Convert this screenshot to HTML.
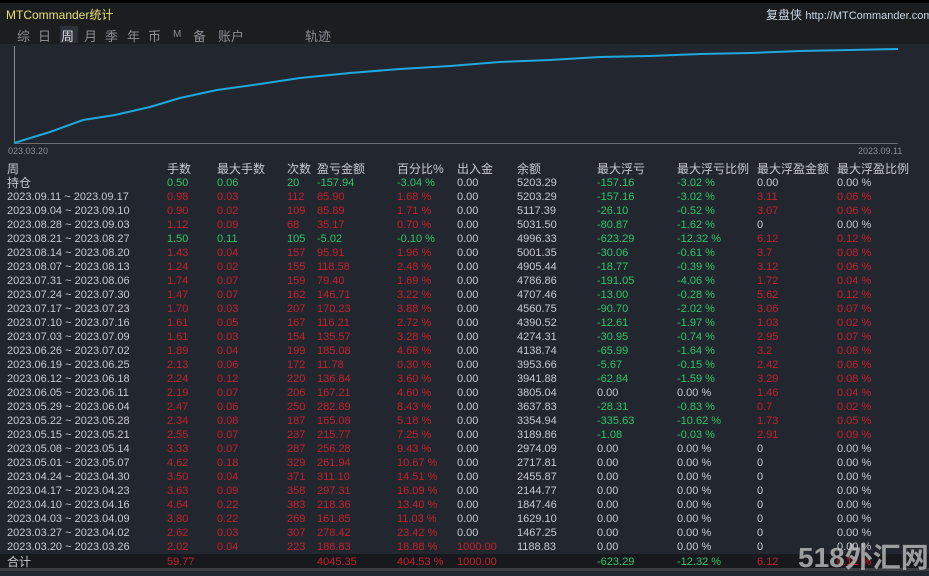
<!DOCTYPE html>
<html><head><meta charset="utf-8"><style>
*{margin:0;padding:0}
body{width:929px;height:571px;background:#22272f;position:relative;overflow:hidden;font-family:"Liberation Sans","Noto Sans CJK SC",sans-serif;color:#c6cacf}
.top{position:absolute;left:0;top:0;width:929px;height:3px;background:#000}
.bar{position:absolute;left:0;top:3px;width:929px;height:41px;background:#1c1d1f}
.t{position:absolute;white-space:nowrap}
.tab{position:absolute;top:26px;font-size:13px;color:#8a8e93}
.r{position:absolute;left:0;width:929px;height:14px;font-size:11px;line-height:14px}
.r span{position:absolute;top:0;white-space:nowrap}
.r span:nth-child(1){left:7px}.r span:nth-child(2){left:167px}.r span:nth-child(3){left:217px}
.r span:nth-child(4){left:287px}.r span:nth-child(5){left:317px}.r span:nth-child(6){left:397px}
.r span:nth-child(7){left:457px}.r span:nth-child(8){left:517px}.r span:nth-child(9){left:597px}
.r span:nth-child(10){left:677px}.r span:nth-child(11){left:757px}.r span:nth-child(12){left:837px}
.g{color:#2fc466}.d{color:#c4202a}
</style></head><body>
<div class="top"></div>
<div class="bar"></div>
<div class="t" style="left:6px;top:6px;font-size:12px;color:#e8e070">MTCommander统计</div>
<div class="t" style="left:766px;top:6px;font-size:12px;color:#c8d8e8">复盘侠 <span style="font-size:11px">http://MTCommander.com</span></div>
<div style="position:absolute;left:60px;top:26px;width:18px;height:17px;background:#2c3038"></div>
<div class="tab" style="left:17px">综</div><div class="tab" style="left:38px">日</div>
<div class="tab" style="left:61px;color:#d8dce0">周</div><div class="tab" style="left:84px">月</div>
<div class="tab" style="left:105px">季</div><div class="tab" style="left:127px">年</div>
<div class="tab" style="left:148px">币</div><div class="tab" style="left:173px;font-size:10px;top:29px">M</div>
<div class="tab" style="left:193px">备</div><div class="tab" style="left:218px">账户</div>
<div class="tab" style="left:305px">轨迹</div>
<svg style="position:absolute;left:0;top:44px" width="929" height="112">
<line x1="14.5" y1="2" x2="14.5" y2="100" stroke="#8a8e93" stroke-width="1"/>
<line x1="14" y1="99.5" x2="898" y2="99.5" stroke="#6a6e73" stroke-width="1"/>
<polyline fill="none" stroke="#1ea8dc" stroke-width="2" points="14,99 50,88 83,76 115,71 150,63 180,54 217,46 260,40 300,34 350,29 400,25 450,22 500,18 550,16 600,13 650,12 700,10 750,9 800,7 850,6 898,5"/>
<text x="8" y="110" font-size="9" fill="#8a8e93" font-family="Liberation Sans">023.03.20</text>
<text x="858" y="110" font-size="9" fill="#8a8e93" font-family="Liberation Sans">2023.09.11</text>
</svg>
<div class="r" style="top:162px;font-size:12px"><span>周</span><span>手数</span><span>最大手数</span><span>次数</span><span>盈亏金额</span><span>百分比%</span><span>出入金</span><span>余额</span><span>最大浮亏</span><span>最大浮亏比例</span><span>最大浮盈金额</span><span>最大浮盈比例</span></div>
<div class="r" style="top:176px"><span style="font-size:12px">持仓</span><span class="g">0.50</span><span class="g">0.06</span><span class="g">20</span><span class="g">-157.94</span><span class="g">-3.04 %</span><span>0.00</span><span>5203.29</span><span class="g">-157.16</span><span class="g">-3.02 %</span><span>0.00</span><span>0.00 %</span></div>
<div class="r" style="top:190px"><span>2023.09.11 ~ 2023.09.17</span><span class="d">0.98</span><span class="d">0.03</span><span class="d">112</span><span class="d">85.90</span><span class="d">1.68 %</span><span>0.00</span><span>5203.29</span><span class="g">-157.16</span><span class="g">-3.02 %</span><span class="d">3.11</span><span class="d">0.06 %</span></div>
<div class="r" style="top:204px"><span>2023.09.04 ~ 2023.09.10</span><span class="d">0.90</span><span class="d">0.02</span><span class="d">109</span><span class="d">85.89</span><span class="d">1.71 %</span><span>0.00</span><span>5117.39</span><span class="g">-26.10</span><span class="g">-0.52 %</span><span class="d">3.07</span><span class="d">0.06 %</span></div>
<div class="r" style="top:218px"><span>2023.08.28 ~ 2023.09.03</span><span class="d">1.12</span><span class="d">0.09</span><span class="d">68</span><span class="d">35.17</span><span class="d">0.70 %</span><span>0.00</span><span>5031.50</span><span class="g">-80.87</span><span class="g">-1.62 %</span><span>0</span><span>0.00 %</span></div>
<div class="r" style="top:232px"><span>2023.08.21 ~ 2023.08.27</span><span class="g">1.50</span><span class="g">0.11</span><span class="g">105</span><span class="g">-5.02</span><span class="g">-0.10 %</span><span>0.00</span><span>4996.33</span><span class="g">-623.29</span><span class="g">-12.32 %</span><span class="d">6.12</span><span class="d">0.12 %</span></div>
<div class="r" style="top:246px"><span>2023.08.14 ~ 2023.08.20</span><span class="d">1.43</span><span class="d">0.04</span><span class="d">157</span><span class="d">95.91</span><span class="d">1.96 %</span><span>0.00</span><span>5001.35</span><span class="g">-30.06</span><span class="g">-0.61 %</span><span class="d">3.7</span><span class="d">0.08 %</span></div>
<div class="r" style="top:260px"><span>2023.08.07 ~ 2023.08.13</span><span class="d">1.24</span><span class="d">0.02</span><span class="d">155</span><span class="d">118.58</span><span class="d">2.48 %</span><span>0.00</span><span>4905.44</span><span class="g">-18.77</span><span class="g">-0.39 %</span><span class="d">3.12</span><span class="d">0.06 %</span></div>
<div class="r" style="top:274px"><span>2023.07.31 ~ 2023.08.06</span><span class="d">1.74</span><span class="d">0.07</span><span class="d">159</span><span class="d">79.40</span><span class="d">1.69 %</span><span>0.00</span><span>4786.86</span><span class="g">-191.05</span><span class="g">-4.06 %</span><span class="d">1.72</span><span class="d">0.04 %</span></div>
<div class="r" style="top:288px"><span>2023.07.24 ~ 2023.07.30</span><span class="d">1.47</span><span class="d">0.07</span><span class="d">162</span><span class="d">146.71</span><span class="d">3.22 %</span><span>0.00</span><span>4707.46</span><span class="g">-13.00</span><span class="g">-0.28 %</span><span class="d">5.62</span><span class="d">0.12 %</span></div>
<div class="r" style="top:302px"><span>2023.07.17 ~ 2023.07.23</span><span class="d">1.70</span><span class="d">0.03</span><span class="d">207</span><span class="d">170.23</span><span class="d">3.88 %</span><span>0.00</span><span>4560.75</span><span class="g">-90.70</span><span class="g">-2.02 %</span><span class="d">3.06</span><span class="d">0.07 %</span></div>
<div class="r" style="top:316px"><span>2023.07.10 ~ 2023.07.16</span><span class="d">1.61</span><span class="d">0.05</span><span class="d">167</span><span class="d">116.21</span><span class="d">2.72 %</span><span>0.00</span><span>4390.52</span><span class="g">-12.61</span><span class="g">-1.97 %</span><span class="d">1.03</span><span class="d">0.02 %</span></div>
<div class="r" style="top:330px"><span>2023.07.03 ~ 2023.07.09</span><span class="d">1.61</span><span class="d">0.03</span><span class="d">154</span><span class="d">135.57</span><span class="d">3.28 %</span><span>0.00</span><span>4274.31</span><span class="g">-30.95</span><span class="g">-0.74 %</span><span class="d">2.95</span><span class="d">0.07 %</span></div>
<div class="r" style="top:344px"><span>2023.06.26 ~ 2023.07.02</span><span class="d">1.89</span><span class="d">0.04</span><span class="d">199</span><span class="d">185.08</span><span class="d">4.68 %</span><span>0.00</span><span>4138.74</span><span class="g">-65.99</span><span class="g">-1.64 %</span><span class="d">3.2</span><span class="d">0.08 %</span></div>
<div class="r" style="top:358px"><span>2023.06.19 ~ 2023.06.25</span><span class="d">2.13</span><span class="d">0.06</span><span class="d">172</span><span class="d">11.78</span><span class="d">0.30 %</span><span>0.00</span><span>3953.66</span><span class="g">-5.67</span><span class="g">-0.15 %</span><span class="d">2.42</span><span class="d">0.06 %</span></div>
<div class="r" style="top:372px"><span>2023.06.12 ~ 2023.06.18</span><span class="d">2.24</span><span class="d">0.12</span><span class="d">220</span><span class="d">136.84</span><span class="d">3.60 %</span><span>0.00</span><span>3941.88</span><span class="g">-62.84</span><span class="g">-1.59 %</span><span class="d">3.29</span><span class="d">0.08 %</span></div>
<div class="r" style="top:386px"><span>2023.06.05 ~ 2023.06.11</span><span class="d">2.19</span><span class="d">0.07</span><span class="d">206</span><span class="d">167.21</span><span class="d">4.60 %</span><span>0.00</span><span>3805.04</span><span>0.00</span><span>0.00 %</span><span class="d">1.46</span><span class="d">0.04 %</span></div>
<div class="r" style="top:400px"><span>2023.05.29 ~ 2023.06.04</span><span class="d">2.47</span><span class="d">0.06</span><span class="d">250</span><span class="d">282.89</span><span class="d">8.43 %</span><span>0.00</span><span>3637.83</span><span class="g">-28.31</span><span class="g">-0.83 %</span><span class="d">0.7</span><span class="d">0.02 %</span></div>
<div class="r" style="top:414px"><span>2023.05.22 ~ 2023.05.28</span><span class="d">2.34</span><span class="d">0.08</span><span class="d">187</span><span class="d">165.08</span><span class="d">5.18 %</span><span>0.00</span><span>3354.94</span><span class="g">-335.63</span><span class="g">-10.62 %</span><span class="d">1.73</span><span class="d">0.05 %</span></div>
<div class="r" style="top:428px"><span>2023.05.15 ~ 2023.05.21</span><span class="d">2.55</span><span class="d">0.07</span><span class="d">237</span><span class="d">215.77</span><span class="d">7.25 %</span><span>0.00</span><span>3189.86</span><span class="g">-1.08</span><span class="g">-0.03 %</span><span class="d">2.91</span><span class="d">0.09 %</span></div>
<div class="r" style="top:442px"><span>2023.05.08 ~ 2023.05.14</span><span class="d">3.33</span><span class="d">0.07</span><span class="d">287</span><span class="d">256.28</span><span class="d">9.43 %</span><span>0.00</span><span>2974.09</span><span>0.00</span><span>0.00 %</span><span>0</span><span>0.00 %</span></div>
<div class="r" style="top:456px"><span>2023.05.01 ~ 2023.05.07</span><span class="d">4.62</span><span class="d">0.18</span><span class="d">329</span><span class="d">261.94</span><span class="d">10.67 %</span><span>0.00</span><span>2717.81</span><span>0.00</span><span>0.00 %</span><span>0</span><span>0.00 %</span></div>
<div class="r" style="top:470px"><span>2023.04.24 ~ 2023.04.30</span><span class="d">3.50</span><span class="d">0.04</span><span class="d">371</span><span class="d">311.10</span><span class="d">14.51 %</span><span>0.00</span><span>2455.87</span><span>0.00</span><span>0.00 %</span><span>0</span><span>0.00 %</span></div>
<div class="r" style="top:484px"><span>2023.04.17 ~ 2023.04.23</span><span class="d">3.63</span><span class="d">0.09</span><span class="d">358</span><span class="d">297.31</span><span class="d">16.09 %</span><span>0.00</span><span>2144.77</span><span>0.00</span><span>0.00 %</span><span>0</span><span>0.00 %</span></div>
<div class="r" style="top:498px"><span>2023.04.10 ~ 2023.04.16</span><span class="d">4.64</span><span class="d">0.22</span><span class="d">383</span><span class="d">218.36</span><span class="d">13.40 %</span><span>0.00</span><span>1847.46</span><span>0.00</span><span>0.00 %</span><span>0</span><span>0.00 %</span></div>
<div class="r" style="top:512px"><span>2023.04.03 ~ 2023.04.09</span><span class="d">3.80</span><span class="d">0.22</span><span class="d">269</span><span class="d">161.85</span><span class="d">11.03 %</span><span>0.00</span><span>1629.10</span><span>0.00</span><span>0.00 %</span><span>0</span><span>0.00 %</span></div>
<div class="r" style="top:526px"><span>2023.03.27 ~ 2023.04.02</span><span class="d">2.62</span><span class="d">0.03</span><span class="d">307</span><span class="d">278.42</span><span class="d">23.42 %</span><span>0.00</span><span>1467.25</span><span>0.00</span><span>0.00 %</span><span>0</span><span>0.00 %</span></div>
<div class="r" style="top:540px"><span>2023.03.20 ~ 2023.03.26</span><span class="d">2.02</span><span class="d">0.04</span><span class="d">223</span><span class="d">188.83</span><span class="d">18.88 %</span><span class="d">1000.00</span><span>1188.83</span><span>0.00</span><span>0.00 %</span><span>0</span><span>0.00 %</span></div>
<div style="position:absolute;left:0;top:554px;width:929px;height:14px;background:#17191c"></div>
<div style="position:absolute;left:0;top:568px;width:929px;height:3px;background:#3a3e44"></div>
<div class="r" style="top:555px"><span style="font-size:12px">合计</span><span class="d">59.77</span><span></span><span></span><span class="d">4045.35</span><span class="d">404.53 %</span><span class="d">1000.00</span><span></span><span class="g">-623.29</span><span class="g">-12.32 %</span><span class="d">6.12</span><span class="d">0.12 %</span></div>
<div class="t" style="left:798px;top:536px;font-size:28px;font-weight:bold;color:rgba(200,200,200,0.75)">518外汇网</div>
</body></html>
